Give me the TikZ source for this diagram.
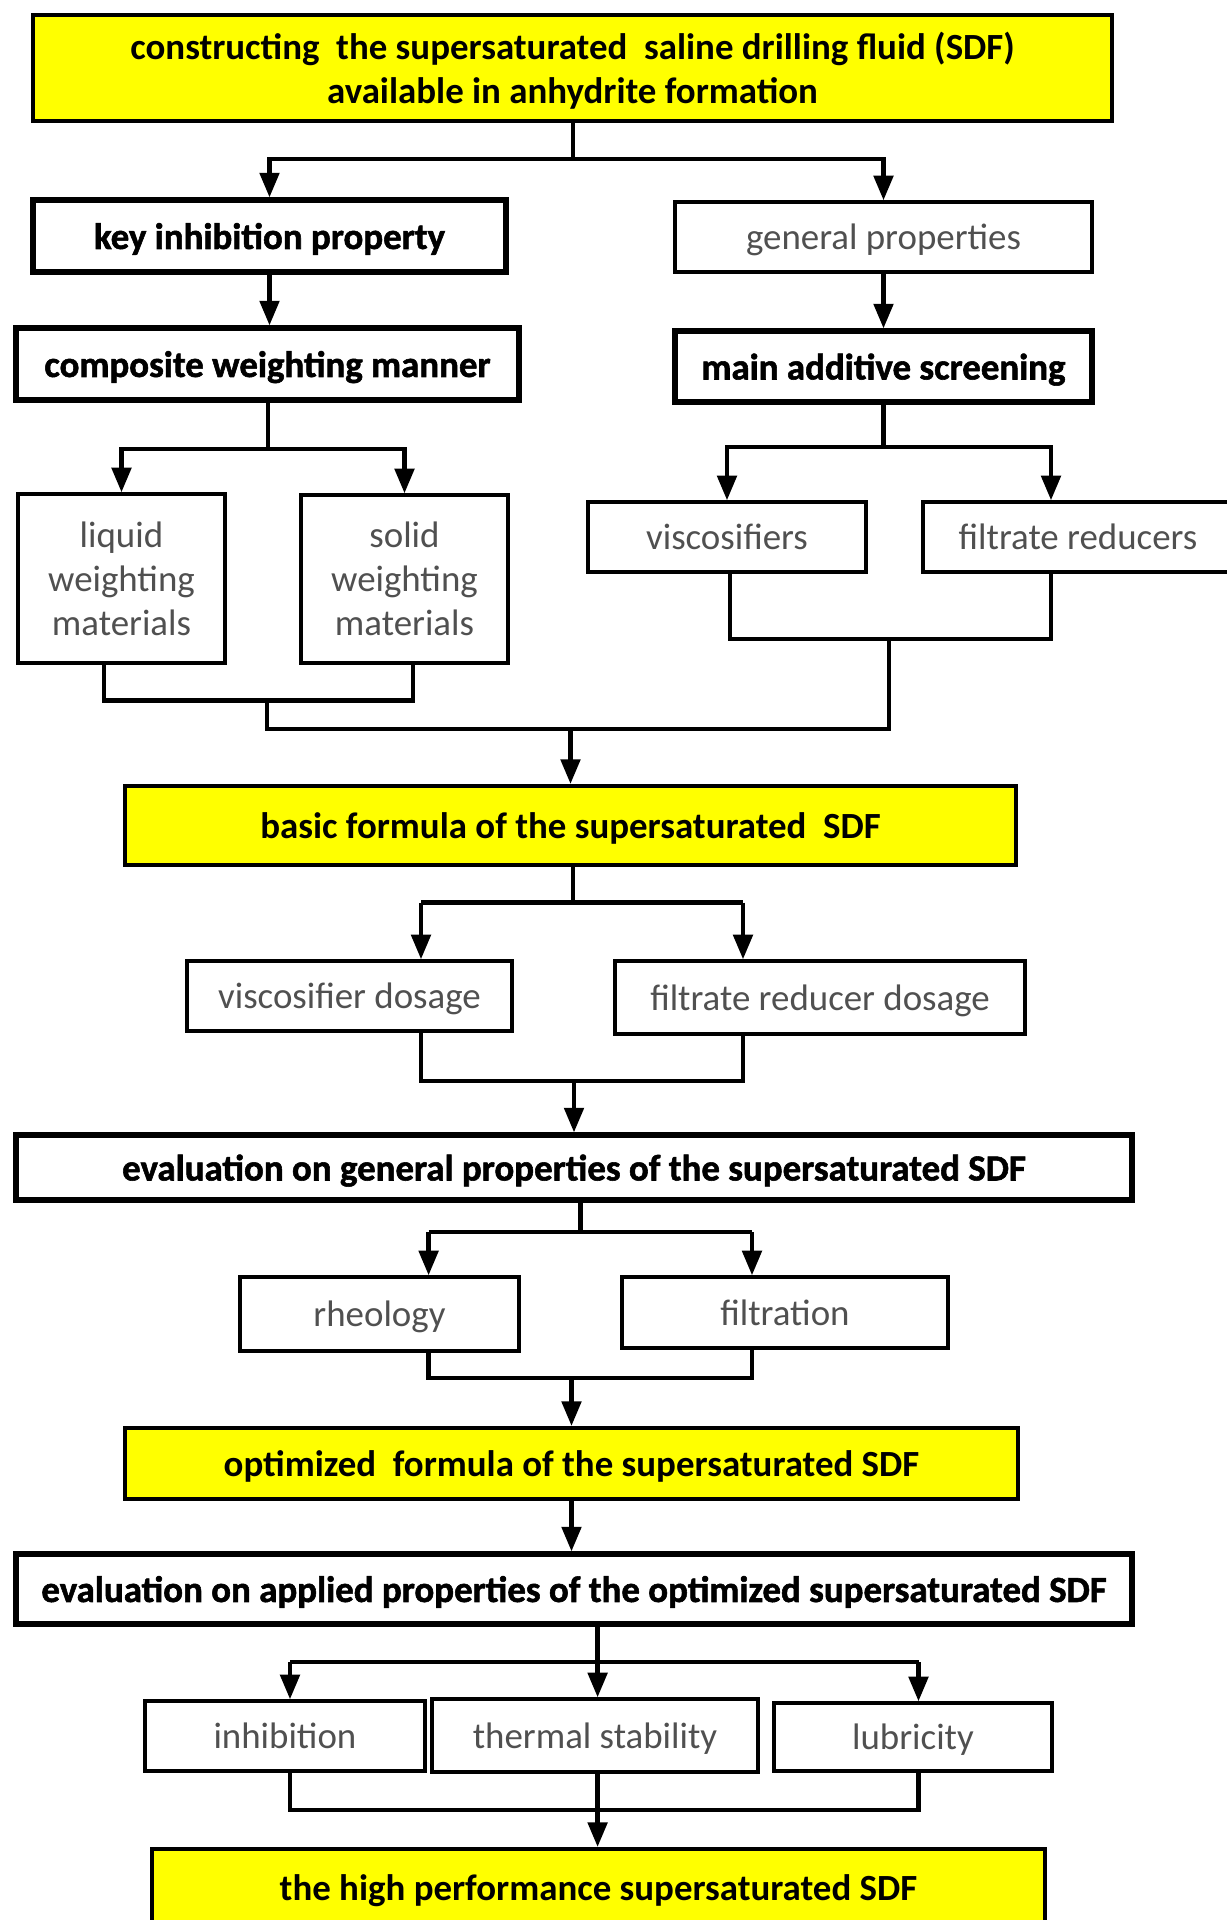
\documentclass[tikz,border=0pt]{standalone}
\usepackage{fontspec}
\setmainfont{Carlito}
\newfontfamily\heavyfont[FakeBold=1.5]{Carlito}
\usetikzlibrary{arrows.meta}
\definecolor{sdfyellow}{HTML}{FFFF00}
\definecolor{txtgrey}{HTML}{505050}
\tikzset{
  sz/.style 2 args={minimum width=#1*0.02cm, minimum height=#2*0.02cm},
  plain/.style={draw=black, line width=2pt, fill=white, text=txtgrey,
    inner sep=0pt, align=center, text depth=0pt, font=\fontsize{21}{25}\selectfont},
  heavy/.style={plain, line width=3pt, text=black,
    font=\fontsize{21}{25}\selectfont\heavyfont\bfseries},
  goal/.style={plain, line width=2.4pt, fill=sdfyellow, text=black,
    font=\fontsize{21}{25}\selectfont\bfseries},
  line/.style={line width=2.4pt},
  arr/.style={line, -{Triangle[length=14pt,width=11pt]}}
}
\begin{document}
\begin{tikzpicture}[x=0.02cm, y=-0.02cm]
    \useasboundingbox (0,0) rectangle (1227,1920);
    \clip (0,0) rectangle (1227,1920);
    % Nodes
    \node[goal, sz={1079}{106}]  (top)       at (572.5,68)   {constructing\ \ the supersaturated\ \ saline drilling fluid (SDF)\\available in anhydrite formation};
    \node[heavy, sz={473}{72}]   (key)       at (269.5,236)  {key inhibition property};
    \node[plain, sz={417}{70}]   (general)   at (883.5,237)  {general properties};
    \node[heavy, sz={503}{72}]   (composite) at (267.5,364)  {composite weighting manner};
    \node[heavy, sz={417}{71}]   (main)      at (883.5,366.5) {main additive screening};
    \node[plain, sz={207}{169}]  (liquid)    at (121.5,578.5) {liquid\\weighting\\materials};
    \node[plain, sz={207}{168}]  (solid)     at (404.5,579)  {solid\\weighting\\materials};
    \node[plain, sz={278}{70}]   (visc)      at (727,537)    {viscosifiers};
    \node[plain, sz={310}{70}]   (reducers)  at (1078,537)   {filtrate reducers};
    \node[goal, sz={891}{79}]    (basic)     at (570.5,825.5) {basic formula of the supersaturated\ \ SDF};
    \node[plain, sz={325}{70}]   (viscdose)  at (349.5,996)  {viscosifier dosage};
    \node[plain, sz={410}{73}]   (reddose)   at (820,997.5)  {filtrate reducer dosage};
    \node[heavy, sz={1116}{65}]  (evalgen)   at (574,1167.5) {evaluation on general properties of the supersaturated SDF};
    \node[plain, sz={279}{74}]   (rheology)  at (379.5,1314) {rheology};
    \node[plain, sz={326}{71}]   (filtration) at (785,1312.5) {filtration};
    \node[goal, sz={893}{71}]    (optimized) at (571.5,1463.5) {optimized\ \ formula of the supersaturated SDF};
    \node[heavy, sz={1116}{70}]  (evalapp)   at (574,1589)   {evaluation on applied properties of the optimized supersaturated SDF};
    \node[plain, sz={280}{70}]   (inhibition) at (285,1736)  {inhibition};
    \node[plain, sz={326}{73}]   (thermal)   at (595,1735.5) {thermal stability};
    \node[plain, sz={278}{68}]   (lubricity) at (913,1737)   {lubricity};
    \node[goal, sz={893}{78}]    (final)     at (598.5,1888) {the high performance supersaturated SDF};
    % Branch points
    \coordinate (f1)  at (573,159);
    \coordinate (fa)  at (268,449);
    \coordinate (fb)  at (883.5,447);
    \coordinate (fbr) at (1051,447);
    \coordinate (ma1) at (104,700.5);
    \coordinate (ma2) at (413,700.5);
    \coordinate (ma)  at (267,700.5);
    \coordinate (mb1) at (730,639);
    \coordinate (mb2) at (1051,639);
    \coordinate (mb)  at (889,639);
    \coordinate (m1l) at (267,728.6);
    \coordinate (m1r) at (889,728.6);
    \coordinate (fc)  at (573,902.5);
    \coordinate (fc1) at (421,902.5);
    \coordinate (fc2) at (743,902.5);
    \coordinate (mc1) at (421,1081);
    \coordinate (mc2) at (743,1081);
    \coordinate (fd)  at (580.5,1232);
    \coordinate (fd1) at (428.6,1232);
    \coordinate (fd2) at (752,1232);
    \coordinate (md1) at (428.6,1377.7);
    \coordinate (md2) at (752,1377.7);
    \coordinate (fe)  at (597.6,1662);
    \coordinate (fe1) at (290,1662);
    \coordinate (fe2) at (918.5,1662);
    \coordinate (me1) at (290,1810);
    \coordinate (me2) at (918.5,1810);
    % Edges
    \draw[line] (top.south -| f1) -- (f1);
    \draw[arr] (f1) -| (key.north);
    \draw[arr] (f1) -| (general.north);
    \draw[arr] (key.south) -- (key.south |- composite.north);
    \draw[arr] (general.south) -- (main.north);
    \draw[line] (composite.south -| fa) -- (fa);
    \draw[arr] (fa) -| (liquid.north);
    \draw[arr] (fa) -| (solid.north);
    \draw[line] (main.south) -- (fb);
    \draw[arr] (fb) -| (visc.north);
    \draw[arr] (fb) -- (fbr) -- (fbr |- reducers.north);
    \draw[line] (liquid.south -| ma1) -- (ma1) -- (ma2) -- (ma2 |- solid.south);
    \draw[line] (visc.south -| mb1) -- (mb1) -- (mb2) -- (mb2 |- reducers.south);
    \draw[line] (ma) -- (m1l) -- (m1r) -- (mb);
    \draw[arr] (basic.north |- m1l) -- (basic.north);
    \draw[line] (basic.south -| fc) -- (fc);
    \draw[line] (fc1) -- (fc2);
    \draw[arr] (fc1) -- (fc1 |- viscdose.north);
    \draw[arr] (fc2) -- (fc2 |- reddose.north);
    \draw[line] (viscdose.south -| mc1) -- (mc1) -- (mc2) -- (mc2 |- reddose.south);
    \draw[arr] (evalgen.north |- mc1) -- (evalgen.north);
    \draw[line] (evalgen.south -| fd) -- (fd);
    \draw[line] (fd1) -- (fd2);
    \draw[arr] (fd1) -- (fd1 |- rheology.north);
    \draw[arr] (fd2) -- (fd2 |- filtration.north);
    \draw[line] (rheology.south -| md1) -- (md1) -- (md2) -- (md2 |- filtration.south);
    \draw[arr] (optimized.north |- md1) -- (optimized.north);
    \draw[arr] (optimized.south) -- (evalapp.north -| optimized.south);
    \draw[arr] (evalapp.south -| fe) -- (thermal.north -| fe);
    \draw[line] (fe1) -- (fe2);
    \draw[arr] (fe1) -- (fe1 |- inhibition.north);
    \draw[arr] (fe2) -- (fe2 |- lubricity.north);
    \draw[line] (inhibition.south -| me1) -- (me1) -- (me2) -- (me2 |- lubricity.south);
    \draw[arr] (thermal.south -| fe) -- (final.north -| fe);
\end{tikzpicture}
\end{document}
